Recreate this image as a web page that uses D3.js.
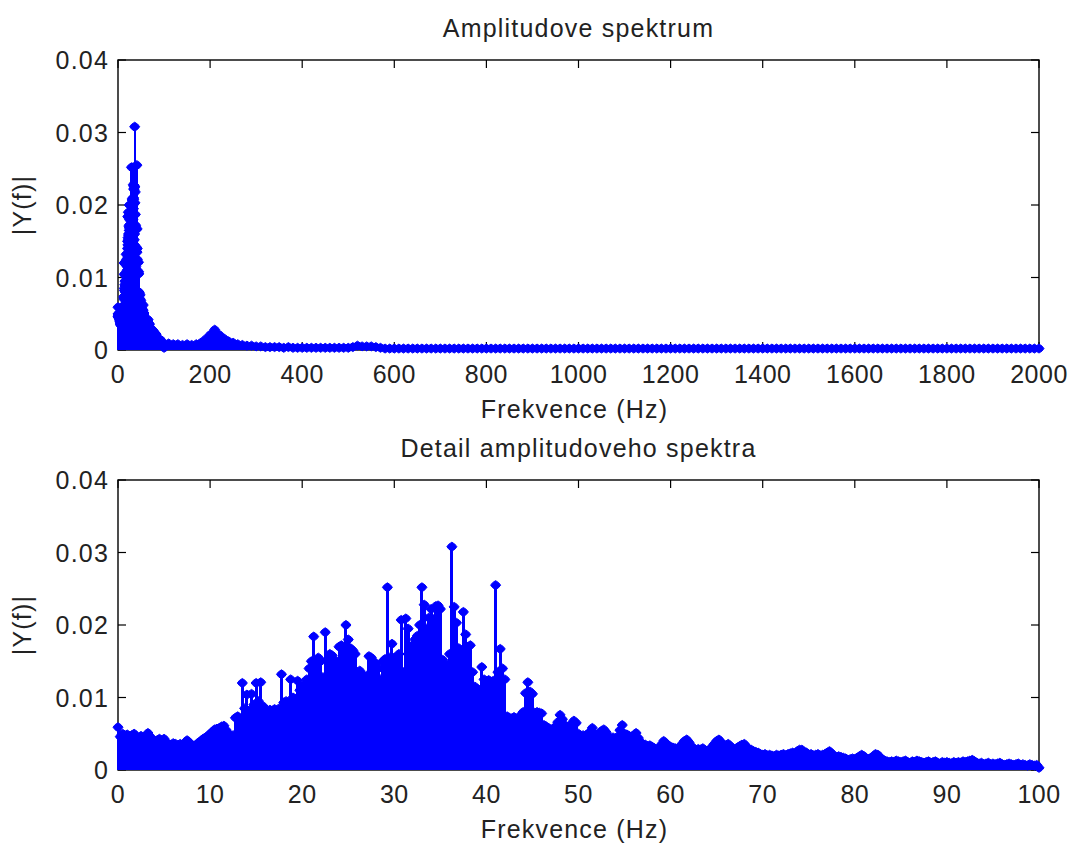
<!DOCTYPE html>
<html>
<head>
<meta charset="utf-8">
<script src="https://cdn.jsdelivr.net/npm/d3@7"></script>
<style>
  body { margin: 0; background: #fff; }
  text { font-family: "Liberation Sans", Arial, sans-serif; font-size: 25px; fill: #222; letter-spacing: 1.2px; }
  text.tick { letter-spacing: 0.5px; }
</style>
</head>
<body>
<svg id="chart" width="1068" height="845"></svg>
<script>
// |Y(f)| for 0..100 Hz, one value every 0.25 Hz
const detailStep = 0.25;
const detailAmp = [
  0.0059, 0.0046, 0.0050, 0.0047, 0.0049, 0.0045, 0.0048, 0.0050, 0.0046, 0.0044, 0.0047, 0.0045, 0.0043, 0.0051, 0.0046, 0.0042, 0.0040, 0.0041, 0.0043, 0.0039,
  0.0043, 0.0038, 0.0036, 0.0035, 0.0037, 0.0036, 0.0034, 0.0036, 0.0035, 0.0037, 0.0041, 0.0038, 0.0034, 0.0033, 0.0035, 0.0038, 0.0040, 0.0043, 0.0045, 0.0047,
  0.0050, 0.0053, 0.0056, 0.0057, 0.0058, 0.0060, 0.0061, 0.0055, 0.0050, 0.0046, 0.0048, 0.0072, 0.0074, 0.0070, 0.0120, 0.0085, 0.0104, 0.0082, 0.0105, 0.0090,
  0.0120, 0.0095, 0.0121, 0.0088, 0.0082, 0.0080, 0.0083, 0.0081, 0.0084, 0.0079, 0.0085, 0.0132, 0.0093, 0.0095, 0.0090, 0.0125, 0.0100, 0.0098, 0.0123, 0.0110,
  0.0115, 0.0118, 0.0125, 0.0140, 0.0150, 0.0184, 0.0145, 0.0155, 0.0150, 0.0128, 0.0190, 0.0152, 0.0160, 0.0158, 0.0145, 0.0150, 0.0170, 0.0172, 0.0165, 0.0200,
  0.0180, 0.0168, 0.0165, 0.0160, 0.0135, 0.0137, 0.0132, 0.0128, 0.0130, 0.0157, 0.0155, 0.0150, 0.0146, 0.0140, 0.0125, 0.0150, 0.0153, 0.0252, 0.0155, 0.0174,
  0.0155, 0.0150, 0.0160, 0.0207, 0.0135, 0.0209, 0.0195, 0.0170, 0.0172, 0.0180, 0.0185, 0.0200, 0.0252, 0.0228, 0.0195, 0.0210, 0.0222, 0.0208, 0.0226, 0.0227,
  0.0222, 0.0152, 0.0143, 0.0145, 0.0160, 0.0308, 0.0225, 0.0203, 0.0168, 0.0165, 0.0218, 0.0187, 0.0170, 0.0172, 0.0135, 0.0115, 0.0112, 0.0110, 0.0142, 0.0125,
  0.0120, 0.0124, 0.0122, 0.0123, 0.0255, 0.0135, 0.0167, 0.0140, 0.0125, 0.0074, 0.0072, 0.0071, 0.0073, 0.0070, 0.0072, 0.0076, 0.0080, 0.0106, 0.0121, 0.0108,
  0.0105, 0.0079, 0.0080, 0.0079, 0.0078, 0.0062, 0.0060, 0.0058, 0.0055, 0.0057, 0.0060, 0.0066, 0.0076, 0.0070, 0.0062, 0.0060, 0.0061, 0.0063, 0.0068, 0.0065,
  0.0050, 0.0047, 0.0048, 0.0046, 0.0050, 0.0052, 0.0058, 0.0050, 0.0045, 0.0049, 0.0054, 0.0056, 0.0052, 0.0046, 0.0044, 0.0045, 0.0043, 0.0046, 0.0055, 0.0062,
  0.0050, 0.0049, 0.0047, 0.0046, 0.0048, 0.0051, 0.0044, 0.0038, 0.0036, 0.0035, 0.0033, 0.0034, 0.0032, 0.0030, 0.0028, 0.0030, 0.0035, 0.0040, 0.0037, 0.0034,
  0.0032, 0.0031, 0.0030, 0.0029, 0.0031, 0.0036, 0.0040, 0.0042, 0.0038, 0.0033, 0.0030, 0.0028, 0.0029, 0.0028, 0.0030, 0.0027, 0.0026, 0.0028, 0.0032, 0.0036,
  0.0040, 0.0042, 0.0038, 0.0035, 0.0034, 0.0036, 0.0033, 0.0030, 0.0028, 0.0031, 0.0033, 0.0035, 0.0036, 0.0032, 0.0029, 0.0028, 0.0026, 0.0025, 0.0024, 0.0022,
  0.0021, 0.0022, 0.0020, 0.0021, 0.0020, 0.0019, 0.0021, 0.0020, 0.0021, 0.0022, 0.0020, 0.0022, 0.0023, 0.0024, 0.0022, 0.0026, 0.0028, 0.0028, 0.0025, 0.0024,
  0.0021, 0.0022, 0.0020, 0.0021, 0.0022, 0.0020, 0.0021, 0.0022, 0.0024, 0.0026, 0.0023, 0.0019, 0.0018, 0.0019, 0.0018, 0.0017, 0.0016, 0.0014, 0.0015, 0.0016,
  0.0015, 0.0017, 0.0019, 0.0021, 0.0019, 0.0016, 0.0015, 0.0017, 0.0019, 0.0022, 0.0021, 0.0017, 0.0015, 0.0013, 0.0012, 0.0011, 0.0012, 0.0011, 0.0013, 0.0012,
  0.0011, 0.0012, 0.0013, 0.0011, 0.0010, 0.0012, 0.0011, 0.0013, 0.0012, 0.0011, 0.0010, 0.0011, 0.0012, 0.0010, 0.0011, 0.0012, 0.0010, 0.0009, 0.0011, 0.0010,
  0.0011, 0.0010, 0.0009, 0.0011, 0.0010, 0.0011, 0.0010, 0.0012, 0.0011, 0.0012, 0.0013, 0.0014, 0.0012, 0.0010, 0.0009, 0.0010, 0.0008, 0.0009, 0.0010, 0.0008,
  0.0009, 0.0008, 0.0009, 0.0010, 0.0008, 0.0007, 0.0008, 0.0009, 0.0008, 0.0007, 0.0008, 0.0009, 0.0007, 0.0008, 0.0007, 0.0006, 0.0008, 0.0007, 0.0006, 0.0007,
  0.0003
];

// |Y(f)| above 100 Hz, one value every 10 Hz from 110 Hz
const tailStart = 110;
const tailStep = 10;
const tailAmp = [
  0.0009, 0.0008, 0.0008, 0.0007, 0.0008, 0.0007, 0.0008, 0.0010, 0.0015, 0.0021,
  0.0028, 0.0021, 0.0016, 0.0012, 0.0010, 0.0008, 0.0007, 0.0006, 0.0006, 0.0005,
  0.0005, 0.0004, 0.0004, 0.0004, 0.0004, 0.0003, 0.0004, 0.0003, 0.0003, 0.0003,
  0.0003, 0.0003, 0.0003, 0.0003, 0.0003, 0.0003, 0.0003, 0.0003, 0.0003, 0.0003,
  0.0004, 0.0006, 0.0005, 0.0005, 0.0005, 0.0004, 0.0003, 0.0002, 0.0002, 0.0002,
  0.0002, 0.0002, 0.0002, 0.0002, 0.0002, 0.0002, 0.0002, 0.0002, 0.0002, 0.0002,
  0.0002, 0.0002, 0.0002, 0.0002, 0.0002, 0.0002, 0.0002, 0.0002, 0.0002, 0.0002,
  0.0002, 0.0002, 0.0002, 0.0002, 0.0002, 0.0002, 0.0002, 0.0002, 0.0002, 0.0002,
  0.0002, 0.0002, 0.0002, 0.0002, 0.0002, 0.0002, 0.0002, 0.0002, 0.0002, 0.0002,
  0.0002, 0.0002, 0.0002, 0.0002, 0.0002, 0.0002, 0.0002, 0.0002, 0.0002, 0.0002,
  0.0002, 0.0002, 0.0002, 0.0002, 0.0002, 0.0002, 0.0002, 0.0002, 0.0002, 0.0002,
  0.0002, 0.0002, 0.0002, 0.0002, 0.0002, 0.0002, 0.0002, 0.0002, 0.0002, 0.0002,
  0.0002, 0.0002, 0.0002, 0.0002, 0.0002, 0.0002, 0.0002, 0.0002, 0.0002, 0.0002,
  0.0002, 0.0002, 0.0002, 0.0002, 0.0002, 0.0002, 0.0002, 0.0002, 0.0002, 0.0002,
  0.0002, 0.0002, 0.0002, 0.0002, 0.0002, 0.0002, 0.0002, 0.0002, 0.0002, 0.0002,
  0.0002, 0.0002, 0.0002, 0.0002, 0.0002, 0.0002, 0.0002, 0.0002, 0.0002, 0.0002,
  0.0002, 0.0002, 0.0002, 0.0002, 0.0002, 0.0002, 0.0002, 0.0002, 0.0002, 0.0002,
  0.0002, 0.0002, 0.0002, 0.0002, 0.0002, 0.0002, 0.0002, 0.0002, 0.0002, 0.0002,
  0.0002, 0.0002, 0.0002, 0.0002, 0.0002, 0.0002, 0.0002, 0.0002, 0.0002, 0.0002
];

const fullTicks = [0, 200, 400, 600, 800, 1000, 1200, 1400, 1600, 1800, 2000];
const detailTicks = [0, 10, 20, 30, 40, 50, 60, 70, 80, 90, 100];
const yTicks = [0, 0.01, 0.02, 0.03, 0.04];
const yTickLabels = ["0", "0.01", "0.02", "0.03", "0.04"];

const titles = ["Amplitudove spektrum", "Detail amplitudoveho spektra"];
const xLabel = "Frekvence (Hz)";
const yLabel = "|Y(f)|";

let detail = detailAmp.map((a, i) => ({ f: i * detailStep, a: a, w: detailStep }));
let tail = tailAmp.map((a, i) => ({ f: tailStart + i * tailStep, a: a, w: tailStep }));

const svg = d3.select("#chart");
const left = 118, right = 1039;

drawPanel({ top: 60, bottom: 350, domain: [0, 2000], ticks: fullTicks, data: tail.concat(detail), title: titles[0] });
drawPanel({ top: 480, bottom: 770, domain: [0, 100], ticks: detailTicks, data: detail, title: titles[1] });

function drawPanel(opt) {
    let x = d3.scaleLinear().domain(opt.domain).range([left, right]);
    let y = d3.scaleLinear().domain([0, 0.04]).range([opt.bottom, opt.top]);
    let g = svg.append("g");
    let tickLen = 8;

    // box
    g.append("rect")
        .attr("x", left).attr("y", opt.top)
        .attr("width", right - left).attr("height", opt.bottom - opt.top)
        .attr("fill", "none").attr("stroke", "#000").attr("stroke-width", 1.4);

    // x ticks (inward, bottom and top)
    opt.ticks.forEach(t => {
        g.append("line").attr("x1", x(t)).attr("x2", x(t))
            .attr("y1", opt.bottom).attr("y2", opt.bottom - tickLen)
            .attr("stroke", "#000").attr("stroke-width", 1.2);
        g.append("line").attr("x1", x(t)).attr("x2", x(t))
            .attr("y1", opt.top).attr("y2", opt.top + tickLen)
            .attr("stroke", "#000").attr("stroke-width", 1.2);
        g.append("text").attr("class", "tick").attr("x", x(t)).attr("y", opt.bottom + 33)
            .attr("text-anchor", "middle").text(t);
    });

    // y ticks (inward, left and right)
    yTicks.forEach((t, i) => {
        g.append("line").attr("x1", left).attr("x2", left + tickLen)
            .attr("y1", y(t)).attr("y2", y(t))
            .attr("stroke", "#000").attr("stroke-width", 1.2);
        g.append("line").attr("x1", right).attr("x2", right - tickLen)
            .attr("y1", y(t)).attr("y2", y(t))
            .attr("stroke", "#000").attr("stroke-width", 1.2);
        g.append("text").attr("x", left - 9).attr("y", y(t) + 9)
            .attr("text-anchor", "end").text(yTickLabels[i]);
    });

    // stems
    g.selectAll("line.stem")
        .data(opt.data)
        .join("line")
        .attr("class", "stem")
        .attr("x1", d => x(d.f)).attr("x2", d => x(d.f))
        .attr("y1", y(0)).attr("y2", d => y(d.a))
        .attr("stroke", "#0000ff")
        .attr("shape-rendering", "crispEdges")
        .attr("stroke-width", d => Math.max(2, Math.ceil(x(d.w) - x(0))));

    // markers
    g.selectAll("path.mark")
        .data(opt.data)
        .join("path")
        .attr("class", "mark")
        .attr("transform", d => `translate(${x(d.f)},${y(d.a)})`)
        .attr("d", "M-5,0 L-3,-2.5 L0,-4.5 L3,-2.5 L5,0 L3,2.5 L0,4.5 L-3,2.5 Z")
        .attr("fill", "#0000ff")
        .attr("stroke", "#0000ff")
        .attr("stroke-width", 1);

    // title and labels
    g.append("text").attr("x", (left + right) / 2).attr("y", opt.top - 23)
        .attr("text-anchor", "middle").text(opt.title);
    g.append("text").attr("x", (left + right) / 2 - 4).attr("y", opt.bottom + 68)
        .attr("text-anchor", "middle").text(xLabel);
    g.append("text")
        .attr("transform", `translate(31,${(opt.top + opt.bottom) / 2}) rotate(-90)`)
        .attr("text-anchor", "middle").text(yLabel);
}
</script>
</body>
</html>
